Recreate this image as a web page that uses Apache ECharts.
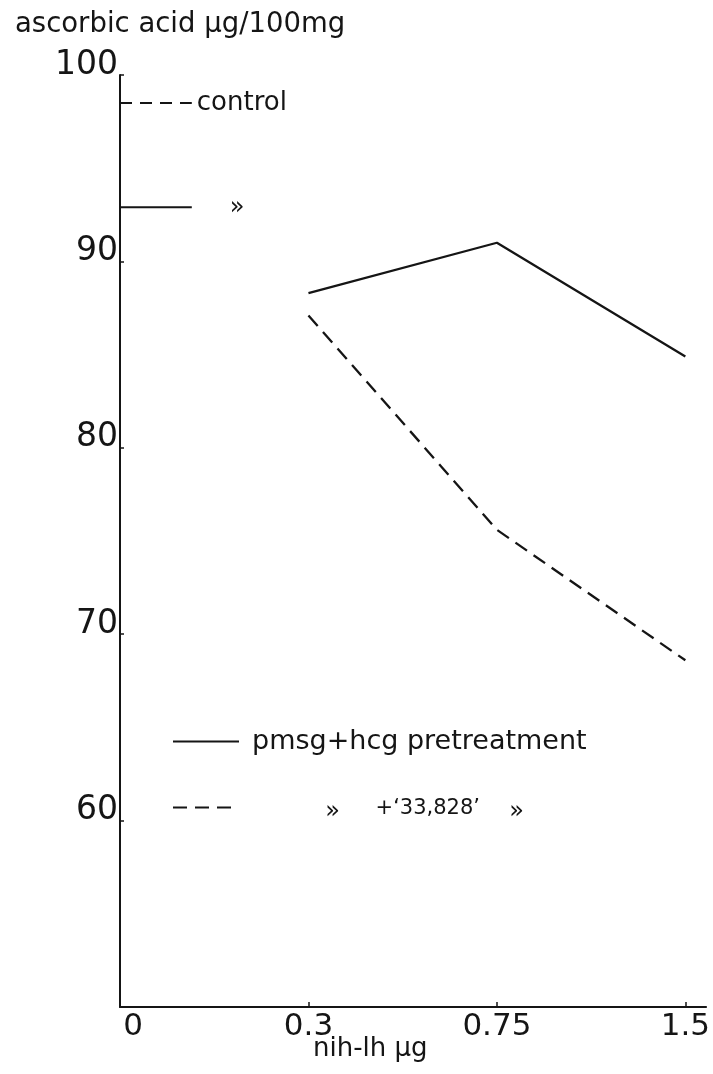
<!DOCTYPE html>
<html>
<head>
<meta charset="utf-8">
<script src="https://cdn.jsdelivr.net/npm/echarts@6/dist/echarts.min.js"></script>
<style>
html,body{margin:0;padding:0;background:#fff;}
#c{width:713px;height:1074px;}
</style>
</head>
<body>
<div id="c"></div>
<script>
// ---- data ----
var doseLabels = ['0', '0.3', '0.75', '1.5'];          // nih-lh µg (evenly spaced on axis)
var pmsgHcg = [null, 88.3, 91.0, 84.9];                  // solid line
var pmsgHcg33828 = [null, 87.1, 75.6, 68.6];             // dashed line
var controlDashed = 98.5;                                // "---- control"
var controlSolid = 92.9;                                 // "—— »"
var yTicks = [60, 70, 80, 90, 100];

// ---- style constants ----
var FONT = 'DejaVu Sans';
var INK = '#151515';
var controlSpan = 0.381;   // length of the control reference strokes (axis units)

function toPairs(arr) {
  var out = [];
  for (var i = 0; i < arr.length; i++) if (arr[i] != null) out.push([i, arr[i]]);
  return out;
}

var chart = echarts.init(document.getElementById('c'), null, {renderer: 'canvas'});
var option = {
  backgroundColor: '#fff',
  animation: false,
  grid: {left: 120, right: 5, top: 75, bottom: 67, containLabel: false},
  xAxis: {
    type: 'value',
    min: 0, max: 3.11, interval: 1,
    splitLine: {show: false},
    axisLine: {show: true, lineStyle: {color: INK, width: 2}},
    axisTick: {show: true, inside: true, length: 5, customValues: [1, 2, 3], lineStyle: {color: INK, width: 1.5}},
    axisLabel: {
      show: true,
      customValues: [0, 1, 2, 3],
      margin: 4,
      color: INK, fontFamily: FONT, fontSize: 31,
      formatter: function (v) {
        var i = Math.round(v);
        return i === 0 ? '{z|' + doseLabels[0] + '}' : doseLabels[i];
      },
      rich: {z: {fontFamily: FONT, fontSize: 31, color: INK, padding: [0, 0, 0, 26]}}
    }
  },
  yAxis: {
    type: 'value',
    min: 50, max: 100, interval: 10,
    splitLine: {show: false},
    axisLine: {show: true, lineStyle: {color: INK, width: 2}},
    axisTick: {show: true, inside: true, length: 4, customValues: yTicks, lineStyle: {color: INK, width: 1.5}},
    axisLabel: {
      show: true, customValues: yTicks,
      margin: 2, verticalAlign: 'bottom', lineHeight: 20,
      color: INK, fontFamily: FONT, fontSize: 33
    }
  },
  legend: {
    show: true,
    orient: 'vertical',
    left: 167, top: 723,
    itemWidth: 66, itemHeight: 14, itemGap: 43,
    selectedMode: false,
    itemStyle: {color: 'rgba(0,0,0,0)', borderWidth: 0, opacity: 0},
    textStyle: {
      color: INK, fontFamily: FONT, fontSize: 27, padding: [0, 0, 0, 8],
      rich: {
        a: {fontFamily: FONT, fontSize: 24, color: INK, width: 88, align: 'right', padding: [8, 0, 0, 0]},
        b: {fontFamily: FONT, fontSize: 21, color: INK, width: 140, align: 'right', padding: [2, 0, 0, 0]},
        c: {fontFamily: FONT, fontSize: 24, color: INK, width: 44, align: 'right', padding: [8, 0, 0, 0]}
      }
    },
    data: ['pmsg+hcg pretreatment', 'plus'],
    formatter: function (name) {
      if (name === 'plus') return '{a|\u00bb}{b|+\u201833,828\u2019}{c|\u00bb}';
      return name;
    }
  },
  graphic: [
    {type: 'text', left: 15, top: 11, style: {text: 'ascorbic acid \u00b5g/100mg', fill: INK, font: '27.5px "DejaVu Sans"'}},
    {type: 'text', left: 313, top: 1036, style: {text: 'nih-lh \u00b5g', fill: INK, font: '26px "DejaVu Sans"'}}
  ],
  series: [
    {
      name: 'pmsg+hcg pretreatment', type: 'line', symbol: 'none',
      lineStyle: {color: INK, width: 2.3}, itemStyle: {color: INK},
      data: toPairs(pmsgHcg)
    },
    {
      name: 'plus', type: 'line', symbol: 'none',
      lineStyle: {color: INK, width: 2.3, type: [14, 8]}, itemStyle: {color: INK},
      data: toPairs(pmsgHcg33828)
    },
    {
      name: 'controlDashed', type: 'line', symbol: 'none', silent: true,
      lineStyle: {color: INK, width: 2, type: [12, 8]}, itemStyle: {color: INK},
      endLabel: {show: true, distance: 5, formatter: 'control', color: INK, fontFamily: FONT, fontSize: 26},
      data: [[0, controlDashed], [controlSpan, controlDashed]]
    },
    {
      name: 'controlSolid', type: 'line', symbol: 'none', silent: true,
      lineStyle: {color: INK, width: 2}, itemStyle: {color: INK},
      endLabel: {show: true, distance: 38, formatter: '\u00bb', color: INK, fontFamily: FONT, fontSize: 24},
      data: [[0, controlSolid], [controlSpan, controlSolid]]
    }
  ]
};
chart.setOption(option);
</script>
</body>
</html>
